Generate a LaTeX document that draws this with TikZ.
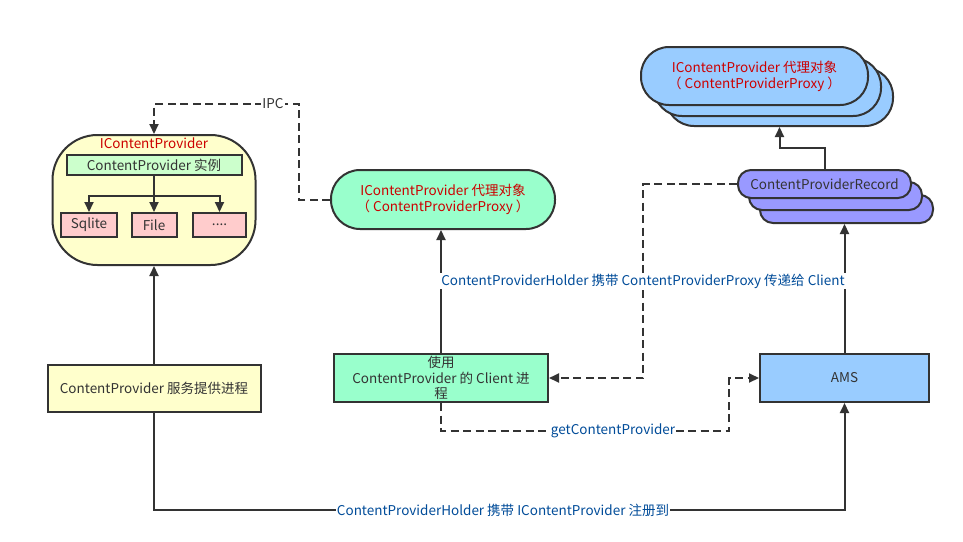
\documentclass[tikz,border=0pt]{standalone}
\usepackage{fontspec}
\setmainfont{Noto Sans CJK SC}
\usetikzlibrary{arrows.meta}
\definecolor{dk}{HTML}{333333}
\definecolor{lblue}{HTML}{004C99}
\definecolor{rd}{HTML}{CC0000}
\definecolor{yel}{HTML}{FFFFCC}
\definecolor{lgreen}{HTML}{CCFFCC}
\definecolor{pinkc}{HTML}{FFCCCC}
\definecolor{mint}{HTML}{99FFCC}
\definecolor{sky}{HTML}{99CCFF}
\definecolor{viol}{HTML}{9999FF}
\tikzset{
  box/.style={draw=dk, line width=2pt, text=dk, align=center, inner sep=0pt, font=\fontsize{13.5}{16}\selectfont},
  conn/.style={draw=dk, line width=2pt},
  arr/.style={-{Triangle[length=10pt,width=9pt]}},
  dashline/.style={dash pattern=on 8pt off 4.5pt},
  lbl/.style={fill=white, text=lblue, inner sep=1pt, font=\fontsize{13.5}{16}\selectfont},
}
\begin{document}
\begin{tikzpicture}[x=1pt,y=-1pt]
\useasboundingbox (0,0) rectangle (963,541);
% left blob
\node[box, fill=yel, rounded corners=45pt, minimum width=203pt, minimum height=130pt] (blob) at (154,200) {};
\node[text=rd, inner sep=0pt, font=\fontsize{13.5}{16}\selectfont] (ictitle) at (154,143) {IContentProvider};
\node[box, fill=lgreen, minimum width=175pt, minimum height=20pt] (bar) at (154,165) {ContentProvider 实例};
\node[box, fill=pinkc, minimum width=56pt, minimum height=24pt] (sqlite) at (89,225) {Sqlite};
\node[box, fill=pinkc, minimum width=45pt, minimum height=24pt] (file) at (154,225) {File};
\node[box, fill=pinkc, minimum width=53pt, minimum height=24pt] (dots) at (219.5,225) {....};
\draw[conn] (bar.south) -- ++(0,20) coordinate (sp);
\draw[conn, arr] (sp) -| (sqlite.north);
\draw[conn, arr] (sp) -| (dots.north);
\draw[conn, arr] (sp) -- (file.north);
% provider process
\node[box, fill=yel, minimum width=213pt, minimum height=47pt] (prov) at (154,388.5) {ContentProvider 服务提供进程};
% green proxy
\node[box, fill=mint, rounded corners=29pt, minimum width=224pt, minimum height=59pt, text=rd] (proxy) at (443,199.5) {IContentProvider 代理对象\\（ ContentProviderProxy ）};
% client
\node[box, fill=mint, minimum width=214pt, minimum height=48pt, font=\fontsize{13.5}{15.5}\selectfont] (client) at (441,378) {使用\\ContentProvider 的 Client 进\\程};
% AMS
\node[box, fill=sky, minimum width=169pt, minimum height=48pt] (ams) at (844.5,378) {AMS};
% record stack
\node[box, fill=viol, rounded corners=13pt, minimum width=173pt, minimum height=28pt] (rec3) at (846.5,209) {};
\node[box, fill=viol, rounded corners=13pt, minimum width=173pt, minimum height=28pt] (rec2) at (835.5,196) {};
\node[box, fill=viol, rounded corners=13pt, minimum width=173pt, minimum height=28pt] (rec) at (824.5,184) {ContentProviderRecord};
% blue proxy stack
\node[box, fill=sky, rounded corners=28pt, minimum width=227pt, minimum height=58pt] (bp3) at (779.5,97) {};
\node[box, fill=sky, rounded corners=28pt, minimum width=227pt, minimum height=58pt] (bp2) at (767.5,87) {};
\node[box, fill=sky, rounded corners=28pt, minimum width=227pt, minimum height=58pt, text=rd] (bp) at (754.5,76) {IContentProvider 代理对象\\（ ContentProviderProxy ）};
% connectors
\draw[conn, arr] (prov.north) -- (blob.south);
\coordinate (ipc1) at (299,104);
\draw[conn, dashline, arr] (proxy.west) -| (ipc1) -| (blob.north);
\node[lbl, text=dk] (ipclbl) at (273,104) {IPC};
\draw[conn, arr] (client.north) -- (client.north |- proxy.south);
\coordinate (g1) at (729,431);
\draw[conn, dashline, arr] (client.south) |- (g1) |- (ams.west);
\node[lbl] (glbl) at (613,431) {getContentProvider};
\coordinate (h1) at (643,184);
\draw[conn, dashline, arr] (rec.west) -- (h1) |- (client.east);
\draw[conn, arr] (ams.north) -- (ams.north |- rec3.south);
\draw[conn, arr] (rec.north) -- ++(0,-21) -| (bp3.south);
\coordinate (b1) at (844.5,510);
\draw[conn, arr] (prov.south) |- (b1) -- (ams.south);
\node[lbl] (blbl) at (503,510) {ContentProviderHolder 携带 IContentProvider 注册到};
\node[lbl] (mlbl) at (643,281) {ContentProviderHolder 携带 ContentProviderProxy 传递给 Client};
\end{tikzpicture}
\end{document}
